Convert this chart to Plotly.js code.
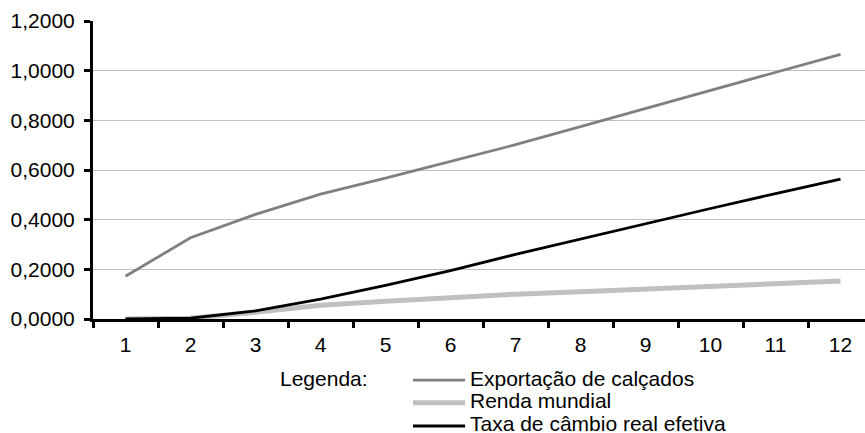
<!DOCTYPE html>
<html>
<head>
<meta charset="utf-8">
<script src="https://cdn.plot.ly/plotly-3.0.1.min.js"></script>
<style>
html,body{margin:0;padding:0;background:#fff;}
#chart{width:865px;height:433px;}
</style>
</head>
<body>
<div id="chart"></div>
<script>
const categories = ['1','2','3','4','5','6','7','8','9','10','11','12'];
const exportacao = [0.172, 0.327, 0.421, 0.503, 0.567, 0.633, 0.702, 0.775, 0.848, 0.920, 0.993, 1.066];
const renda      = [0.000, 0.003, 0.027, 0.055, 0.071, 0.087, 0.100, 0.110, 0.120, 0.131, 0.142, 0.153];
const taxa       = [0.000, 0.003, 0.033, 0.080, 0.135, 0.195, 0.260, 0.322, 0.385, 0.445, 0.505, 0.563];
const seriesNames = ['Exportação de calçados', 'Renda mundial', 'Taxa de câmbio real efetiva'];
const yTickVals = [0, 0.2, 0.4, 0.6, 0.8, 1.0, 1.2];
const yTickText = ['0,0000', '0,2000', '0,4000', '0,6000', '0,8000', '1,0000', '1,2000'];
const legendTitle = 'Legenda:';

const FONT = 'Liberation Sans, Arial, sans-serif';
const styles = [
  {color: '#808080', width: 2.8},
  {color: '#c0c0c0', width: 5},
  {color: '#000000', width: 2.8}
];
const seriesValues = [exportacao, renda, taxa];

const traces = seriesValues.map((vals, i) => ({
  type: 'scatter', mode: 'lines',
  x: categories, y: vals, name: seriesNames[i],
  line: {color: styles[i].color, width: styles[i].width},
  cliponaxis: false, hoverinfo: 'skip'
}));

// manual legend (below plot)
const legendRowsY = [-0.205, -0.281, -0.359];
const shapes = [];
const annotations = [{
  xref: 'paper', yref: 'paper', x: 0.3588, y: legendRowsY[0], yshift: 2,
  xanchor: 'right', yanchor: 'middle', showarrow: false,
  text: legendTitle, font: {family: FONT, size: 21, color: '#000'}
}];
seriesNames.forEach((nm, i) => {
  shapes.push({type: 'line', xref: 'paper', yref: 'paper',
    x0: 0.4145, x1: 0.482, y0: legendRowsY[i], y1: legendRowsY[i],
    line: {color: styles[i].color, width: styles[i].width}});
  annotations.push({xref: 'paper', yref: 'paper', x: 0.4855, y: legendRowsY[i], yshift: 2,
    xanchor: 'left', yanchor: 'middle', showarrow: false,
    text: nm, font: {family: FONT, size: 21, color: '#000'}});
});

const layout = {
  width: 865, height: 433,
  margin: {l: 93, r: 0, t: 21, b: 114, pad: 0},
  paper_bgcolor: '#fff', plot_bgcolor: '#fff',
  showlegend: false,
  font: {family: FONT, size: 21, color: '#000'},
  xaxis: {
    type: 'category', range: [-0.5, 11.377],
    tickson: 'boundaries', ticks: 'outside', ticklen: 6, tickwidth: 3, tickcolor: '#000',
    ticklabelstandoff: 5,
    showline: true, linecolor: '#000', linewidth: 3,
    showgrid: false, zeroline: false, fixedrange: true,
    tickfont: {family: FONT, size: 21, color: '#000'}
  },
  yaxis: {
    range: [0, 1.2], tickvals: yTickVals, ticktext: yTickText,
    ticks: 'outside', ticklen: 6, tickwidth: 3, tickcolor: '#000',
    ticklabelstandoff: 5,
    showline: true, linecolor: '#000', linewidth: 3,
    showgrid: true, gridcolor: '#c0c0c0', gridwidth: 1,
    zeroline: false, fixedrange: true,
    tickfont: {family: FONT, size: 21, color: '#000'}
  },
  shapes: shapes,
  annotations: annotations
};

Plotly.newPlot('chart', traces, layout, {displayModeBar: false, staticPlot: true});
</script>
</body>
</html>
